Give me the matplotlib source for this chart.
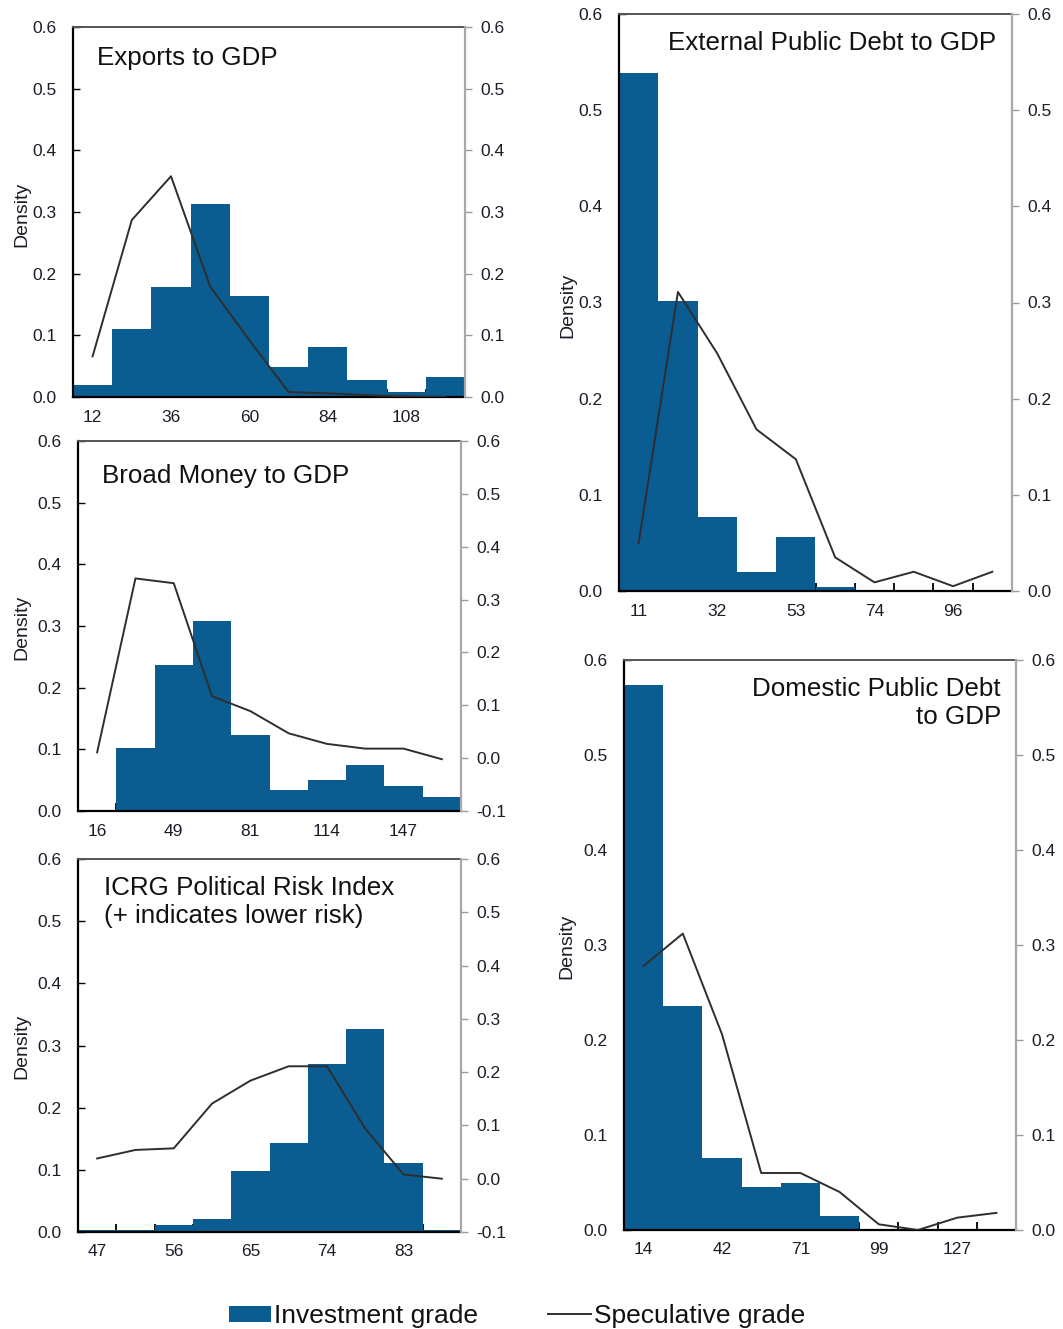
import matplotlib
matplotlib.use("Agg")
import matplotlib.pyplot as plt
from matplotlib.patches import Rectangle
from matplotlib.lines import Line2D

plt.rcParams['font.family'] = ['Liberation Sans', 'DejaVu Sans']

BAR_COLOR = '#0b5c91'
LINE_COLOR = '#2e2e2e'
TXT = '#1c1c28'

# ---------------- data ----------------
# Exports to GDP
exp_centers = [12, 24, 36, 48, 60, 72, 84, 96, 108, 120]
exp_width = 12
exp_invest = [0.020, 0.111, 0.179, 0.313, 0.163, 0.049, 0.081, 0.028, 0.008, 0.033]
exp_spec = [0.066, 0.287, 0.358, 0.179, 0.092, 0.008, 0.006, 0.003, 0.001, 0.000]
exp_labels = ['12', '36', '60', '84', '108']

# Broad Money to GDP
bm_centers = [16, 32.35, 48.7, 65.05, 81.4, 97.75, 114.1, 130.45, 146.8, 163.15]
bm_width = 16.35
bm_invest = [0.0, 0.102, 0.236, 0.308, 0.124, 0.034, 0.050, 0.075, 0.040, 0.023]
bm_spec = [0.011, 0.340, 0.331, 0.117, 0.089, 0.047, 0.027, 0.018, 0.018, -0.002]
bm_labels = ['16', '49', '81', '114', '147']

# ICRG Political Risk Index
icrg_centers = [47, 51.5, 56, 60.5, 65, 69.5, 74, 78.5, 83, 87.5]
icrg_width = 4.5
icrg_invest = [0.004, 0.004, 0.011, 0.021, 0.098, 0.143, 0.270, 0.327, 0.111, 0.004]
icrg_spec = [0.038, 0.054, 0.057, 0.141, 0.184, 0.211, 0.211, 0.094, 0.008, 0.000]
icrg_labels = ['47', '56', '65', '74', '83']

# External Public Debt to GDP
ext_centers = [11, 21.6, 32.2, 42.8, 53.4, 64.0, 74.6, 85.2, 95.8, 106.4]
ext_width = 10.6
ext_invest = [0.539, 0.302, 0.077, 0.020, 0.056, 0.004, 0.001, 0.001, 0.001, 0.001]
ext_spec = [0.050, 0.311, 0.247, 0.168, 0.137, 0.035, 0.009, 0.020, 0.005, 0.020]
ext_labels = ['11', '32', '53', '74', '96']

# Domestic Public Debt to GDP
dom_centers = [14, 28.1, 42.2, 56.3, 70.4, 84.5, 98.6, 112.7, 126.8, 140.9]
dom_width = 14.1
dom_invest = [0.574, 0.236, 0.076, 0.045, 0.050, 0.015, 0.001, 0.001, 0.001, 0.001]
dom_spec = [0.278, 0.312, 0.206, 0.060, 0.060, 0.040, 0.006, 0.000, 0.013, 0.018]
dom_labels = ['14', '42', '71', '99', '127']

yticks_left = [0.0, 0.1, 0.2, 0.3, 0.4, 0.5, 0.6]

# ---------------- figure ----------------
fig = plt.figure(figsize=(10.63, 13.29), dpi=100)


def panel(rect, centers, width, invest, spec, labels, title, title_xy, title_ha,
          right_min):
    ax = fig.add_axes(rect)
    ax.bar(centers, invest, width=width, color=BAR_COLOR, edgecolor='none',
           linewidth=0, align='center', zorder=2)
    left = centers[0] - width / 2
    right = centers[-1] + width / 2
    ax.set_xlim(left, right)
    ax.set_ylim(0, 0.6)
    # bin edge ticks (no labels) and labels at alternate bin centers
    edges = [c + width / 2 for c in centers[:-1]]
    ax.set_xticks(edges)
    ax.set_xticklabels([])
    ax.set_xticks(centers[0::2], minor=True)
    ax.set_xticklabels(labels, minor=True)
    ax.tick_params(axis='x', which='major', direction='in', length=6, width=1.3,
                   color='black')
    ax.tick_params(axis='x', which='minor', length=0, pad=9, labelsize=12.5,
                   labelcolor=TXT)
    ax.set_yticks(yticks_left)
    ax.set_yticklabels(['%.1f' % v for v in yticks_left])
    ax.tick_params(axis='y', direction='in', length=5, width=1.0, color='black',
                   pad=12, labelsize=12.5, labelcolor=TXT)
    for s in ['left', 'bottom']:
        ax.spines[s].set_color('black')
        ax.spines[s].set_linewidth(1.6)
    ax.spines['top'].set_color('#555555')
    ax.spines['top'].set_linewidth(1.4)
    ax.spines['right'].set_visible(False)
    ax.set_zorder(1)
    ax.patch.set_visible(False)

    ax2 = ax.twinx()
    ax2.plot(centers, spec, color=LINE_COLOR, linewidth=1.4, zorder=3)
    ax2.set_ylim(right_min, 0.6)
    n = int(round((0.6 - right_min) / 0.1)) + 1
    rt = [round(right_min + 0.1 * i, 1) for i in range(n)]
    ax2.set_yticks(rt)
    ax2.set_yticklabels(['%.1f' % v for v in rt])
    ax2.tick_params(axis='y', direction='out', length=5, width=1.0, color='#9a9a9a',
                    pad=6, labelsize=12.5, labelcolor=TXT)
    for s in ['left', 'bottom', 'top']:
        ax2.spines[s].set_visible(False)
    ax2.spines['right'].set_color('#a8a8a8')
    ax2.spines['right'].set_linewidth(1.6)
    ax2.set_zorder(2)
    ax2.patch.set_visible(False)

    fig.text(title_xy[0] / 1063, 1 - title_xy[1] / 1329, title, ha=title_ha,
             va='center', fontsize=18.7, color='#111111', linespacing=1.25)
    return ax


def ylabel(x, y):
    fig.text(x / 1063, 1 - y / 1329, 'Density', rotation=90, ha='center',
             va='center', fontsize=14, color=TXT)


def rect(l, r, t, b):
    return [l / 1063, 1 - b / 1329, (r - l) / 1063, (b - t) / 1329]


panel(rect(73, 465, 27, 397), exp_centers, exp_width, exp_invest, exp_spec,
      exp_labels, 'Exports to GDP', (97, 58), 'left', 0.0)
ylabel(22, 214)

panel(rect(78, 461, 441, 811), bm_centers, bm_width, bm_invest, bm_spec,
      bm_labels, 'Broad Money to GDP', (102, 476), 'left', -0.1)
ylabel(22, 627)

panel(rect(78, 461, 859, 1232), icrg_centers, icrg_width, icrg_invest, icrg_spec,
      icrg_labels, 'ICRG Political Risk Index\n(+ indicates lower risk)',
      (104, 902), 'left', -0.1)
ylabel(22, 1046)

panel(rect(619, 1012, 14, 591), ext_centers, ext_width, ext_invest, ext_spec,
      ext_labels, 'External Public Debt to GDP', (996, 43), 'right', 0.0)
ylabel(568, 305)

panel(rect(624, 1016, 660, 1230), dom_centers, dom_width, dom_invest, dom_spec,
      dom_labels, 'Domestic Public Debt\nto GDP', (1001, 703), 'right', 0.0)
ylabel(567, 946)

# ---------------- legend ----------------
leg_handles = [Rectangle((0, 0), 1, 1, facecolor=BAR_COLOR, edgecolor='none'),
               Line2D([0], [0], color=LINE_COLOR, linewidth=1.4)]
leg = fig.legend(leg_handles, ['Investment grade', 'Speculative grade'],
                 loc='center', bbox_to_anchor=(517 / 1063, 1 - 1316 / 1329),
                 ncol=2, frameon=False, fontsize=19, handlelength=1.6,
                 handleheight=0.55, handletextpad=0.12, columnspacing=2.65,
                 borderpad=0)
for t in leg.get_texts():
    t.set_color('#111111')

fig.savefig('out.png', dpi=100)
